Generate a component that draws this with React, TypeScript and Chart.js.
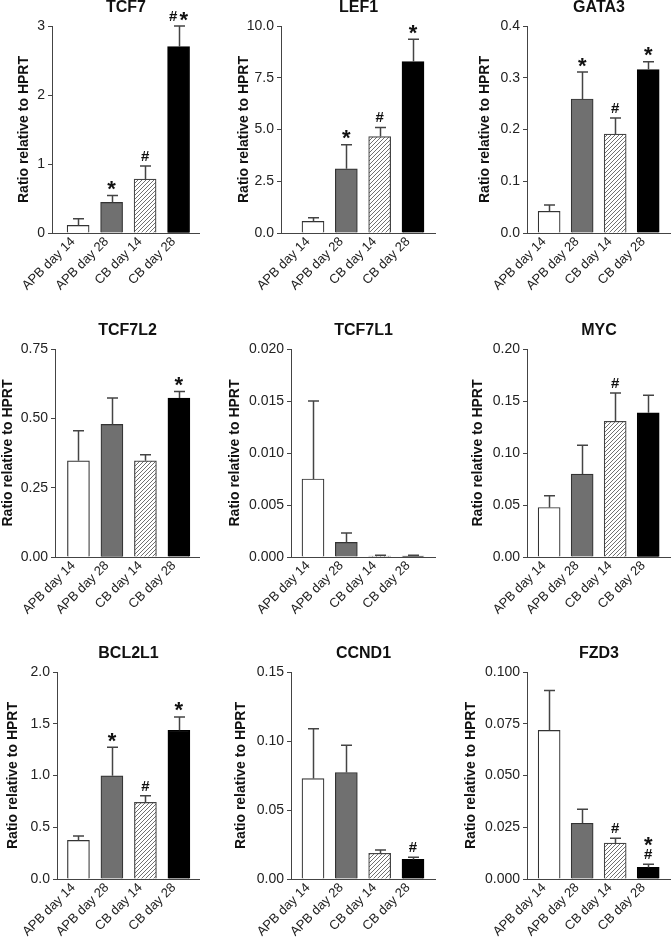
import React, { useEffect, useRef } from "react";
import { Chart, registerables } from "chart.js";

Chart.register(...registerables);

// ---------- data ----------
const CATEGORIES = ["APB day 14", "APB day 28", "CB day 14", "CB day 28"];

const TCF7_MEAN = [0.11, 0.443, 0.78, 2.7];
const TCF7_ERR = [0.097, 0.101, 0.19, 0.3];
const TCF7_MARKS = ["", "*", "#", "#*"];

const LEF1_MEAN = [0.56, 3.1, 4.66, 8.28];
const LEF1_ERR = [0.18, 1.16, 0.44, 1.08];
const LEF1_MARKS = ["", "*", "#", "*"];

const GATA3_MEAN = [0.042, 0.259, 0.191, 0.316];
const GATA3_ERR = [0.012, 0.052, 0.031, 0.015];
const GATA3_MARKS = ["", "*", "#", "*"];

const TCF7L2_MEAN = [0.347, 0.478, 0.347, 0.573];
const TCF7L2_ERR = [0.108, 0.095, 0.022, 0.024];
const TCF7L2_MARKS = ["", "", "", "*"];

const TCF7L1_MEAN = [0.0075, 0.0014, 0.0001, 0.0001];
const TCF7L1_ERR = [0.0075, 0.0009, 0.00006, 0.00006];
const TCF7L1_MARKS = ["", "", "", ""];

const MYC_MEAN = [0.0476, 0.0797, 0.1305, 0.1386];
const MYC_ERR = [0.0112, 0.0277, 0.0271, 0.017];
const MYC_MARKS = ["", "", "#", ""];

const BCL2L1_MEAN = [0.373, 0.997, 0.74, 1.437];
const BCL2L1_ERR = [0.042, 0.276, 0.064, 0.129];
const BCL2L1_MARKS = ["", "*", "#", "*"];

const CCND1_MEAN = [0.0728, 0.0772, 0.0186, 0.0142];
const CCND1_ERR = [0.036, 0.0197, 0.0024, 0.0015];
const CCND1_MARKS = ["", "", "", "#"];

const FZD3_MEAN = [0.0718, 0.0269, 0.0173, 0.0056];
const FZD3_ERR = [0.0193, 0.0068, 0.0024, 0.0015];
const FZD3_MARKS = ["", "", "#", "*\n#"];

const Y_TITLE = "Ratio relative to HPRT";

// ---------- styling / layout ----------
const FONT = "'Liberation Sans', Arial, Helvetica, sans-serif";
const BAR_FILLS = ["#ffffff", "#707070", "HATCH", "#000000"];
const BAR_BORDERS = ["#333333", "#333333", "#444444", "#000000"];

type Panel = {
  gene: string;
  mean: number[];
  err: number[];
  marks: string[];
  yMax: number;
  yStep: number;
  dec: number;
  left: number;
  axisX: number;
  right: number;
  plotTop: number;
  plotBottom: number;
  xMin: number;
  xMax: number;
  yTitlePad: number;
};

const ROW_Y = [
  [26, 233],
  [349, 557],
  [672, 879],
];

const PANELS: Panel[] = [
  { gene: "TCF7", mean: TCF7_MEAN, err: TCF7_ERR, marks: TCF7_MARKS, yMax: 3, yStep: 1, dec: 0,
    left: 0, axisX: 52, right: 200, plotTop: ROW_Y[0][0], plotBottom: ROW_Y[0][1], xMin: -0.78, xMax: 3.64, yTitlePad: 16 },
  { gene: "LEF1", mean: LEF1_MEAN, err: LEF1_ERR, marks: LEF1_MARKS, yMax: 10, yStep: 2.5, dec: 1,
    left: 224, axisX: 281, right: 436, plotTop: ROW_Y[0][0], plotBottom: ROW_Y[0][1], xMin: -0.96, xMax: 3.69, yTitlePad: 12 },
  { gene: "GATA3", mean: GATA3_MEAN, err: GATA3_ERR, marks: GATA3_MARKS, yMax: 0.4, yStep: 0.1, dec: 1,
    left: 448, axisX: 527, right: 671, plotTop: ROW_Y[0][0], plotBottom: ROW_Y[0][1], xMin: -0.67, xMax: 3.69, yTitlePad: 29 },
  { gene: "TCF7L2", mean: TCF7L2_MEAN, err: TCF7L2_ERR, marks: TCF7L2_MARKS, yMax: 0.75, yStep: 0.25, dec: 2,
    left: 0, axisX: 55, right: 200, plotTop: ROW_Y[1][0], plotBottom: ROW_Y[1][1], xMin: -0.7, xMax: 3.63, yTitlePad: 0 },
  { gene: "TCF7L1", mean: TCF7L1_MEAN, err: TCF7L1_ERR, marks: TCF7L1_MARKS, yMax: 0.02, yStep: 0.005, dec: 3,
    left: 224, axisX: 291, right: 436, plotTop: ROW_Y[1][0], plotBottom: ROW_Y[1][1], xMin: -0.66, xMax: 3.69, yTitlePad: 3 },
  { gene: "MYC", mean: MYC_MEAN, err: MYC_ERR, marks: MYC_MARKS, yMax: 0.2, yStep: 0.05, dec: 2,
    left: 448, axisX: 527, right: 671, plotTop: ROW_Y[1][0], plotBottom: ROW_Y[1][1], xMin: -0.67, xMax: 3.69, yTitlePad: 22 },
  { gene: "BCL2L1", mean: BCL2L1_MEAN, err: BCL2L1_ERR, marks: BCL2L1_MARKS, yMax: 2, yStep: 0.5, dec: 1,
    left: 0, axisX: 57, right: 200, plotTop: ROW_Y[2][0], plotBottom: ROW_Y[2][1], xMin: -0.64, xMax: 3.63, yTitlePad: 5 },
  { gene: "CCND1", mean: CCND1_MEAN, err: CCND1_ERR, marks: CCND1_MARKS, yMax: 0.15, yStep: 0.05, dec: 2,
    left: 224, axisX: 291, right: 436, plotTop: ROW_Y[2][0], plotBottom: ROW_Y[2][1], xMin: -0.66, xMax: 3.69, yTitlePad: 9 },
  { gene: "FZD3", mean: FZD3_MEAN, err: FZD3_ERR, marks: FZD3_MARKS, yMax: 0.1, yStep: 0.025, dec: 3,
    left: 448, axisX: 527, right: 671, plotTop: ROW_Y[2][0], plotBottom: ROW_Y[2][1], xMin: -0.67, xMax: 3.69, yTitlePad: 15 },
];

const TITLE_SPACE = 28;
const X_AXIS_H = 60;

function makeHatch(): CanvasPattern | string {
  const c = document.createElement("canvas");
  const s = 4;
  c.width = s;
  c.height = s;
  const g = c.getContext("2d");
  if (!g) return "#cccccc";
  g.fillStyle = "#ffffff";
  g.fillRect(0, 0, s, s);
  g.strokeStyle = "#707070";
  g.lineWidth = 1;
  g.beginPath();
  g.moveTo(0, s);
  g.lineTo(s, 0);
  g.moveTo(-1, 1);
  g.lineTo(1, -1);
  g.moveTo(s - 1, s + 1);
  g.lineTo(s + 1, s - 1);
  g.stroke();
  return g.createPattern(c, "repeat") || "#cccccc";
}

function PanelChart({ p }: { p: Panel }) {
  const ref = useRef<HTMLCanvasElement | null>(null);
  const canvasTop = p.plotTop - TITLE_SPACE;
  const width = p.right - p.left;
  const height = p.plotBottom - canvasTop + X_AXIS_H;

  useEffect(() => {
    const canvas = ref.current;
    if (!canvas) return;
    const hatch = makeHatch();
    const fills = BAR_FILLS.map((f) => (f === "HATCH" ? hatch : f));

    const errPlugin = {
      id: "errbars",
      afterDatasetsDraw(chart: any) {
        const ctx = chart.ctx;
        const meta = chart.getDatasetMeta(0);
        const ys = chart.scales.y;
        ctx.save();
        meta.data.forEach((el: any, i: number) => {
          const top = ys.getPixelForValue(p.mean[i] + p.err[i]);
          const x = Math.round(el.x) + 0.5;
          ctx.strokeStyle = "#444444";
          ctx.lineWidth = 1.5;
          ctx.beginPath();
          ctx.moveTo(x, el.y);
          ctx.lineTo(x, top);
          ctx.moveTo(x - 5.5, top);
          ctx.lineTo(x + 5.5, top);
          ctx.stroke();

          const mark = p.marks[i];
          if (!mark) return;
          const lines = mark.split("\n");
          let cy = top - 10;
          for (let li = lines.length - 1; li >= 0; li--) {
            const chars = lines[li].split("");
            const fonts = chars.map((ch) => (ch === "*" ? `bold 22px ${FONT}` : `bold 15px ${FONT}`));
            const gap = 2;
            const widths = chars.map((ch, k) => {
              ctx.font = fonts[k];
              return ctx.measureText(ch).width;
            });
            const total = widths.reduce((a, b) => a + b, 0) + gap * (chars.length - 1);
            let cx = el.x - total / 2;
            chars.forEach((ch, k) => {
              ctx.font = fonts[k];
              const m = ctx.measureText(ch);
              const base = cy + (m.actualBoundingBoxAscent - m.actualBoundingBoxDescent) / 2;
              ctx.fillStyle = "#111111";
              ctx.textAlign = "left";
              ctx.textBaseline = "alphabetic";
              ctx.fillText(ch, cx, base);
              cx += widths[k] + gap;
            });
            cy -= 13;
          }
        });
        ctx.restore();
      },
    };

    const chart = new Chart(canvas, {
      type: "bar",
      data: {
        datasets: [
          {
            data: p.mean.map((v, i) => ({ x: i, y: v })),
            backgroundColor: fills as any,
            borderColor: BAR_BORDERS,
            borderWidth: 1.2,
            barThickness: 22,
            borderSkipped: "start",
          } as any,
        ],
      },
      options: {
        animation: false,
        responsive: false,
        devicePixelRatio: 1,
        layout: { padding: 0 },
        events: [],
        plugins: {
          legend: { display: false },
          tooltip: { enabled: false },
          title: {
            display: true,
            text: p.gene,
            fullSize: false,
            color: "#111111",
            font: { family: FONT, size: 16, weight: "bold" },
            padding: { top: 0, bottom: TITLE_SPACE - 19.2 },
          },
        },
        scales: {
          x: {
            type: "linear",
            min: p.xMin,
            max: p.xMax,
            offset: false,
            grid: { display: false, drawTicks: false },
            border: { display: true, color: "#444444", width: 1 },
            afterBuildTicks: (s: any) => {
              s.ticks = CATEGORIES.map((_, i) => ({ value: i }));
            },
            afterFit: (s: any) => {
              s.height = X_AXIS_H;
            },
            ticks: {
              autoSkip: false,
              maxRotation: 45,
              minRotation: 45,
              padding: 1,
              labelOffset: -5,
              color: "#222222",
              font: { family: FONT, size: 13 },
              callback: (v: any) => CATEGORIES[Math.round(Number(v))] ?? "",
            },
          },
          y: {
            min: 0,
            max: p.yMax,
            grid: { display: true, drawOnChartArea: false, drawTicks: true, tickLength: 4, color: "#444444" },
            border: { display: true, color: "#444444", width: 1 },
            afterFit: (s: any) => {
              s.width = p.axisX - p.left;
            },
            ticks: {
              stepSize: p.yStep,
              padding: 3,
              color: "#222222",
              font: { family: FONT, size: 14 },
              callback: (v: any) => Number(v).toFixed(p.dec),
            },
            title: {
              display: true,
              text: Y_TITLE,
              color: "#111111",
              font: { family: FONT, size: 14, weight: "bold" },
              padding: { top: p.yTitlePad, bottom: 0 },
            },
          },
        },
      } as any,
      plugins: [errPlugin],
    });
    return () => chart.destroy();
  }, [p]);

  return (
    <canvas
      ref={ref}
      width={width}
      height={height}
      style={{ position: "absolute", left: p.left, top: canvasTop, width, height }}
    />
  );
}

export default function App() {
  useEffect(() => {
    document.body.style.margin = "0";
  }, []);
  return (
    <div
      style={{
        position: "relative",
        width: 672,
        height: 938,
        overflow: "hidden",
        background: "#ffffff",
      }}
    >
      {PANELS.map((p) => (
        <PanelChart key={p.gene} p={p} />
      ))}
    </div>
  );
}
